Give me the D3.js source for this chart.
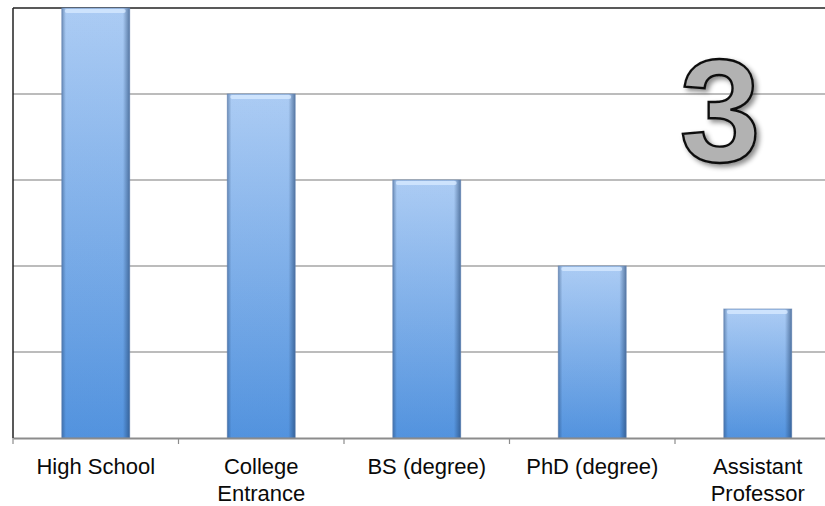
<!DOCTYPE html>
<html>
<head>
<meta charset="utf-8">
<script src="https://cdn.jsdelivr.net/npm/d3@7"></script>
<style>
  body { margin: 0; background: #fff; }
  svg { display: block; }
</style>
</head>
<body>
<div id="canvas"></div>
<script>
"use strict"

let width = 825;
let height = 506;

// data
let categories = ["High School", "College Entrance", "BS (degree)", "PhD (degree)", "Assistant Professor"];
let values = [5, 4, 3, 2, 1.5];
let labelLines = [["High School"], ["College", "Entrance"], ["BS (degree)"], ["PhD (degree)"], ["Assistant", "Professor"]];
let yTicks = [0, 1, 2, 3, 4, 5];
let bigNumber = "3";

let plotLeft = 13, plotTop = 8, plotBottom = 438;
let step = 165.5;

let svg = d3.select("#canvas")
    .append("svg")
    .attr("width", width)
    .attr("height", height);

let defs = svg.append("defs");

let vGrad = defs.append("linearGradient")
    .attr("id", "barV")
    .attr("x1", 0).attr("y1", 0).attr("x2", 0).attr("y2", 1);
vGrad.append("stop").attr("offset", "0%").attr("stop-color", "#b3d3fb");
vGrad.append("stop").attr("offset", "100%").attr("stop-color", "#5597e4");

let hGrad = defs.append("linearGradient")
    .attr("id", "barH")
    .attr("x1", 0).attr("y1", 0).attr("x2", 1).attr("y2", 0);
hGrad.append("stop").attr("offset", "0%").attr("stop-color", "#1f3f6a").attr("stop-opacity", 0.45);
hGrad.append("stop").attr("offset", "6%").attr("stop-color", "#1f3f6a").attr("stop-opacity", 0.05);
hGrad.append("stop").attr("offset", "90%").attr("stop-color", "#1f3f6a").attr("stop-opacity", 0.05);
hGrad.append("stop").attr("offset", "100%").attr("stop-color", "#1f3f6a").attr("stop-opacity", 0.6);

let shadow = defs.append("filter")
    .attr("id", "shadow")
    .attr("x", "-20%").attr("y", "-20%").attr("width", "150%").attr("height", "150%");
shadow.append("feDropShadow")
    .attr("dx", 3).attr("dy", 3)
    .attr("stdDeviation", 2.5)
    .attr("flood-color", "#000")
    .attr("flood-opacity", 0.45);

let x = d3.scaleBand()
    .domain(categories)
    .range([plotLeft, plotLeft + step * categories.length])
    .padding(0);

let y = d3.scaleLinear()
    .domain([0, 5])
    .range([plotBottom, plotTop]);

let barW = x.bandwidth() * 0.41;

// gridlines
svg.append("g")
    .selectAll("line")
    .data(yTicks.filter(d => d > 0))
    .join("line")
    .attr("x1", plotLeft)
    .attr("x2", width)
    .attr("y1", d => y(d))
    .attr("y2", d => y(d))
    .attr("stroke", d => d === 5 ? "#222" : "#a6a6a6")
    .attr("stroke-width", d => d === 5 ? 1.5 : 1.3);

// bars
let bars = svg.append("g");
bars.selectAll("rect.fill")
    .data(values)
    .join("rect")
    .attr("class", "fill")
    .attr("x", (d, i) => x(categories[i]) + (x.bandwidth() - barW) / 2)
    .attr("y", d => y(d))
    .attr("width", barW)
    .attr("height", d => y(0) - y(d))
    .attr("fill", "url(#barV)");

bars.selectAll("rect.edge")
    .data(values)
    .join("rect")
    .attr("class", "edge")
    .attr("x", (d, i) => x(categories[i]) + (x.bandwidth() - barW) / 2)
    .attr("y", d => y(d))
    .attr("width", barW)
    .attr("height", d => y(0) - y(d))
    .attr("fill", "url(#barH)")
    .attr("stroke", "#5d7fae")
    .attr("stroke-opacity", 0.6)
    .attr("stroke-width", 1);

// top highlight
bars.selectAll("rect.hl")
    .data(values)
    .join("rect")
    .attr("class", "hl")
    .attr("x", (d, i) => x(categories[i]) + (x.bandwidth() - barW) / 2 + 3)
    .attr("y", d => y(d) + 1)
    .attr("width", barW - 7)
    .attr("height", 4)
    .attr("rx", 2)
    .attr("fill", "#d6e8ff")
    .attr("opacity", 0.8);

// x axis
let xAxis = d3.axisBottom(x).tickSize(0).tickFormat("");
let gx = svg.append("g")
    .attr("transform", `translate(0,${plotBottom})`)
    .call(xAxis);
gx.select(".domain").attr("stroke", "#8c8c8c").attr("stroke-width", 2);

// boundary ticks
gx.selectAll("line.bound")
    .data(d3.range(categories.length + 1))
    .join("line")
    .attr("class", "bound")
    .attr("x1", i => plotLeft + step * i)
    .attr("x2", i => plotLeft + step * i)
    .attr("y1", 0)
    .attr("y2", 6)
    .attr("stroke", "#8c8c8c")
    .attr("stroke-width", 1.2);

// category labels
let labels = svg.append("g")
    .attr("font-family", "Liberation Sans, Arial, sans-serif")
    .attr("font-size", 22)
    .attr("fill", "#0a0a0a")
    .attr("text-anchor", "middle");
labels.selectAll("text")
    .data(labelLines)
    .join("text")
    .attr("x", (d, i) => x(categories[i]) + x.bandwidth() / 2)
    .attr("y", 474)
    .selectAll("tspan")
    .data(d => d)
    .join("tspan")
    .attr("x", function () { return d3.select(this.parentNode).attr("x"); })
    .attr("dy", (d, i) => i === 0 ? 0 : 27)
    .text(d => d);

// y axis line
svg.append("line")
    .attr("x1", plotLeft).attr("x2", plotLeft)
    .attr("y1", plotTop).attr("y2", plotBottom)
    .attr("stroke", "#222")
    .attr("stroke-width", 1.5);

// big number
svg.append("text")
    .attr("x", 720)
    .attr("y", 161)
    .attr("text-anchor", "middle")
    .attr("font-family", "Liberation Sans, Arial, sans-serif")
    .attr("font-weight", "bold")
    .attr("font-size", 146)
    .attr("fill", "#b2b2b2")
    .attr("stroke", "#111")
    .attr("stroke-width", 2.4)
    .attr("filter", "url(#shadow)")
    .text(bigNumber);
</script>
</body>
</html>
